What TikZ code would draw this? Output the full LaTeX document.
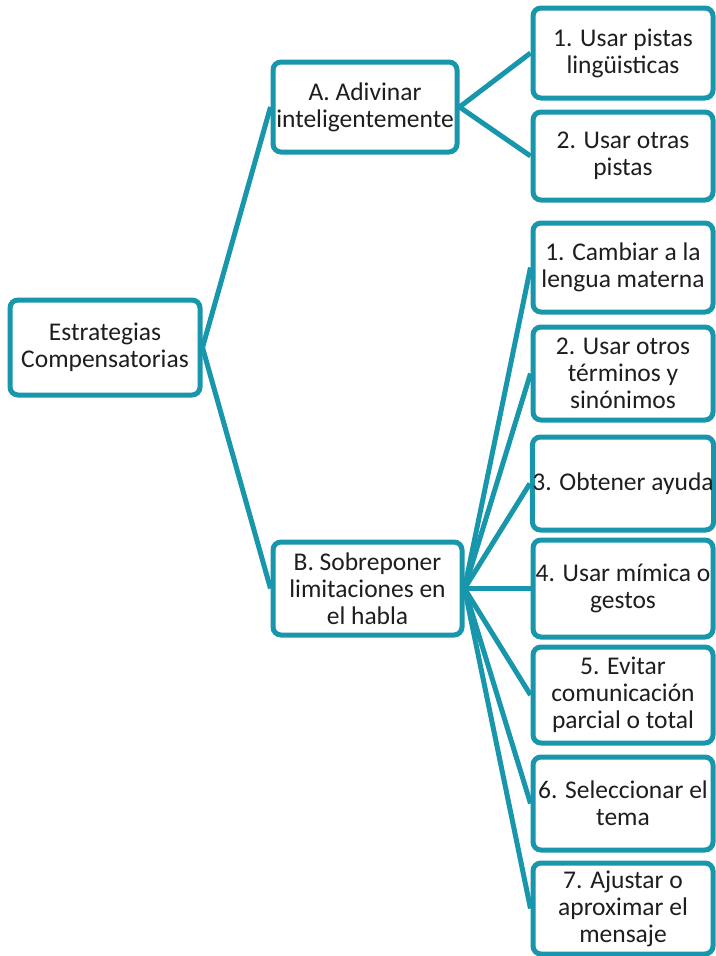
\documentclass[tikz,border=0pt]{standalone}
\usepackage{fontspec}
\setmainfont{Carlito}
\definecolor{verdeazul}{RGB}{24,150,172}
\definecolor{tinta}{RGB}{30,30,30}
\tikzset{
  caja/.style={
    draw=verdeazul,
    line width=5pt,
    rounded corners=8pt,
    fill=white,
    align=center,
    inner sep=0pt,
    text=tinta,
    font=\fontsize{25.5}{27}\selectfont
  },
  hoja/.style={
    caja,
    minimum width=180pt,
    minimum height=91pt
  },
  rama/.style={
    draw=verdeazul,
    line width=5pt
  }
}

\begin{document}
\begin{tikzpicture}[x=1pt,y=-1pt]
  \useasboundingbox (0,0) rectangle (715,956);

  \node[caja,minimum width=190pt,minimum height=95pt] (raiz) at (105,347.5) {Estrategias\\Compensatorias};
  \node[caja,minimum width=184pt,minimum height=90pt] (adivinar) at (365,107) {A. Adivinar\\inteligentemente};
  \node[caja,minimum width=189pt,minimum height=93pt] (sobreponer) at (367.5,588.5) {B. Sobreponer\\limitaciones en\\el habla};

  \node[hoja,minimum height=90pt] (a1) at (623,53) {1. Usar pistas\\lingüisticas};
  \node[hoja,minimum height=88pt] (a2) at (623,156) {2. Usar otras\\pistas};

  \node[hoja,minimum height=89pt] (b1) at (623,267.5) {1. Cambiar a la\\lengua materna};
  \node[hoja,minimum height=93pt] (b2) at (623,373.5) {2. Usar otros\\términos y\\sinónimos};
  \node[hoja,minimum height=93pt] (b3) at (623,483.5) {3. Obtener ayuda};
  \node[hoja,minimum height=97pt] (b4) at (623,588.5) {4. Usar mímica o\\gestos};
  \node[hoja,minimum height=96pt] (b5) at (623,695) {5. Evitar\\comunicación\\parcial o total};
  \node[hoja,minimum height=93pt] (b6) at (623,803.5) {6. Seleccionar el\\tema};
  \node[hoja,minimum height=91pt] (b7) at (623,908.5) {7. Ajustar o\\aproximar el\\mensaje};

  \path[rama] (raiz.east) -- (adivinar.west);
  \path[rama] (raiz.east) -- (sobreponer.west);
  \foreach \h in {a1,a2}
    \path[rama] (adivinar.east) -- (\h.west);
  \foreach \h in {b1,b2,b3,b4,b5,b6,b7}
    \path[rama] (sobreponer.east) -- (\h.west);
\end{tikzpicture}
\end{document}
